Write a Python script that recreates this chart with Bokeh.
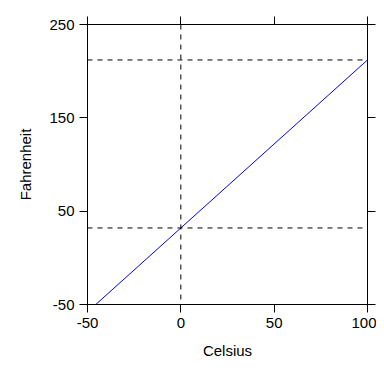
from bokeh.plotting import figure
from bokeh.models import Range1d, FixedTicker, LinearAxis, Span, CustomLabelingPolicy
from bokeh.embed import file_html
from bokeh.resources import INLINE

# Data
celsius = [-45.56, 0, 100]
fahrenheit = [-50, 32, 212]
x_ticks = [-50, 0, 50, 100]
y_ticks = [-50, 50, 150, 250]
ref_celsius = [0]
ref_fahrenheit = [32, 212]

FONT = "Liberation Sans"
FS = "15px"

p = figure(width=376, height=368,
           x_range=Range1d(-50, 100), y_range=Range1d(-50, 250),
           output_backend="svg", toolbar_location=None,
           min_border_left=87, min_border_top=24,
           min_border_right=9, min_border_bottom=64,
           x_axis_label="Celsius", y_axis_label="Fahrenheit")
p.grid.visible = False
p.outline_line_color = "black"
p.background_fill_color = "white"
p.border_fill_color = "white"

for ax in p.xaxis:
    ax.ticker = FixedTicker(ticks=x_ticks)
    ax.major_label_overrides = {t: str(t) for t in x_ticks}
for ax in p.yaxis:
    ax.ticker = FixedTicker(ticks=y_ticks)
    ax.major_label_overrides = {t: str(t) for t in y_ticks}

for ax in list(p.xaxis) + list(p.yaxis):
    ax.major_tick_out = 8
    ax.major_tick_in = 0
    ax.minor_tick_out = 0
    ax.minor_tick_in = 0
    ax.axis_line_color = "black"
    ax.major_tick_line_color = "black"
    ax.major_label_text_font = FONT
    ax.major_label_text_font_size = FS
    ax.major_label_text_color = "black"
    ax.major_label_standoff = 5
    ax.axis_label_text_font = FONT
    ax.axis_label_text_font_size = FS
    ax.axis_label_text_font_style = "normal"
    ax.axis_label_text_color = "black"

p.xaxis.axis_label_standoff = 11
p.yaxis.axis_label_standoff = 12

hide_all = CustomLabelingPolicy(code="""
for (const i of Array.from(indices)) { indices.unset(i) }
return indices
""")

top = LinearAxis(ticker=FixedTicker(ticks=x_ticks), major_label_policy=hide_all,
                 major_label_overrides={t: "" for t in x_ticks},
                 major_tick_out=8, major_tick_in=0, minor_tick_out=0, minor_tick_in=0,
                 axis_line_color="black", major_label_standoff=0)
right = LinearAxis(ticker=FixedTicker(ticks=y_ticks), major_label_policy=hide_all,
                   major_label_overrides={t: "" for t in y_ticks},
                   major_tick_out=8, major_tick_in=0, minor_tick_out=0, minor_tick_in=0,
                   axis_line_color="black", major_label_standoff=0)
p.add_layout(top, "above")
p.add_layout(right, "right")

for yv in ref_fahrenheit:
    p.add_layout(Span(location=yv, dimension="width", line_color="black",
                      line_width=1, line_dash="5 5"))
for xv in ref_celsius:
    p.add_layout(Span(location=xv, dimension="height", line_color="black",
                      line_width=1, line_dash="5 5"))

p.line(celsius, fahrenheit, line_color="#0000ff", line_width=1)

open("out.html", "w").write(file_html(p, INLINE))
